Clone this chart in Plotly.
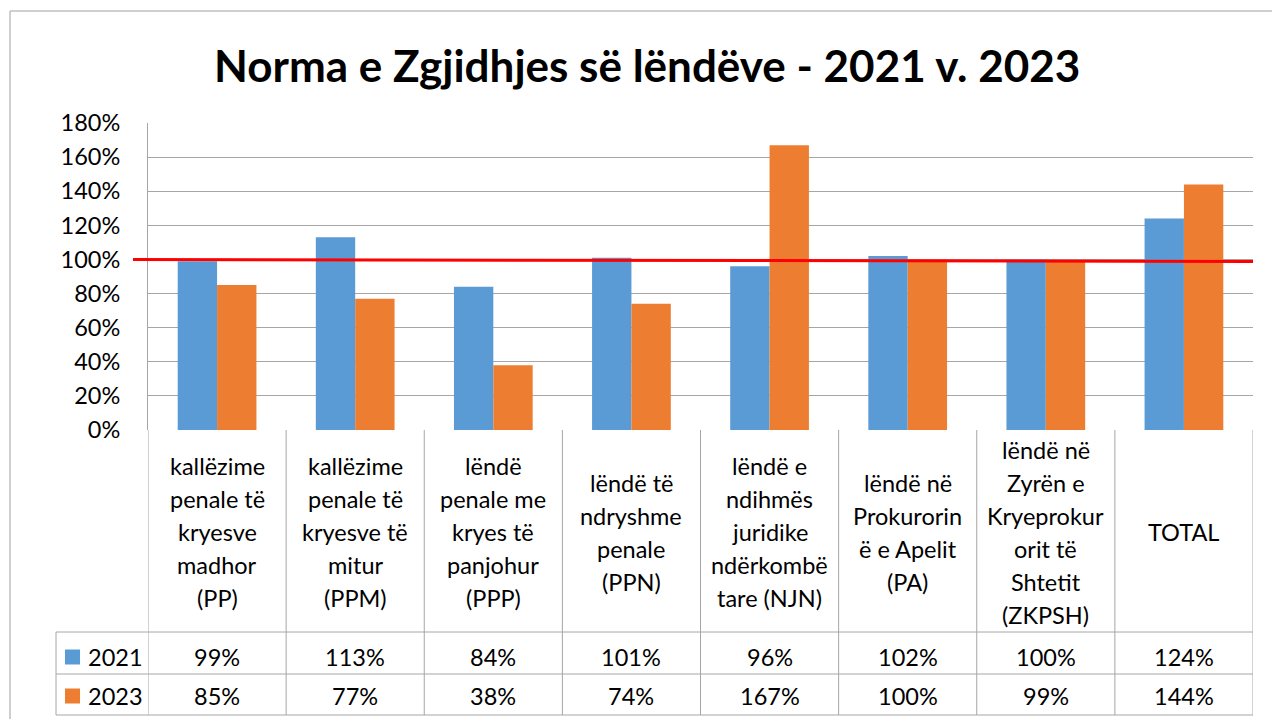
import plotly.graph_objects as go

title = "Norma e Zgjidhjes së lëndëve - 2021 v. 2023"
categories = [
    "kallëzime<br>penale të<br>kryesve<br>madhor<br>(PP)",
    "kallëzime<br>penale të<br>kryesve të<br>mitur<br>(PPM)",
    "lëndë<br>penale me<br>kryes të<br>panjohur<br>(PPP)",
    "lëndë të<br>ndryshme<br>penale<br>(PPN)",
    "lëndë e<br>ndihmës<br>juridike<br>ndërkombë<br>tare (NJN)",
    "lëndë në<br>Prokurorin<br>ë e Apelit<br>(PA)",
    "lëndë në<br>Zyrën e<br>Kryeprokur<br>orit të<br>Shtetit<br>(ZKPSH)",
    "TOTAL",
]
series_names = ["2021", "2023"]
values_2021 = [99, 113, 84, 101, 96, 102, 100, 124]
values_2023 = [85, 77, 38, 74, 167, 100, 99, 144]
colors = ["#5B9BD5", "#ED7D31"]
y_ticks = [0, 20, 40, 60, 80, 100, 120, 140, 160, 180]

W, H = 1272, 719
L, R, T, B = 148, 1253, 123, 430
FONT = "Lato, Carlito, Calibri, sans-serif"
FS = 23.5
GRID = "#a6a6a6"


def X(px):
    return (px - L) / (R - L)


def Y(py):
    return (B - py) / (B - T)


fig = go.Figure()
for name, vals, col in zip(series_names, [values_2021, values_2023], colors):
    fig.add_trace(go.Bar(x=list(range(len(categories))), y=vals, name=name,
                         marker=dict(color=col, line=dict(width=0))))

shapes = []
annotations = []

# outer frame
shapes.append(dict(type="line", xref="paper", yref="paper", x0=X(10), x1=X(1290), y0=Y(11), y1=Y(11),
                   line=dict(color="#bfbfbf", width=1.5)))
shapes.append(dict(type="line", xref="paper", yref="paper", x0=X(10), x1=X(10), y0=Y(11), y1=Y(730),
                   line=dict(color="#bfbfbf", width=1.5)))

# red reference line
shapes.append(dict(type="line", xref="paper", yref="y", x0=X(133), x1=1, y0=100, y1=98.8,
                   line=dict(color="#FF0000", width=3), layer="above"))

# data table grid
n = len(categories)
row1, row2, row3 = 632, 674, 715
for i in range(n + 1):
    shapes.append(dict(type="line", xref="x", yref="paper", x0=i - 0.5, x1=i - 0.5, y0=Y(B), y1=Y(row3),
                       line=dict(color=GRID, width=1)))
for ry in (row1, row2, row3):
    shapes.append(dict(type="line", xref="paper", yref="paper", x0=X(56), x1=1, y0=Y(ry), y1=Y(ry),
                       line=dict(color=GRID, width=1)))
shapes.append(dict(type="line", xref="paper", yref="paper", x0=X(56), x1=X(56), y0=Y(row1), y1=Y(row3),
                   line=dict(color=GRID, width=1)))

# category labels (centered in label row)
line_h = 33
center_y = 532
for i, cat in enumerate(categories):
    lines = cat.split("<br>")
    top = center_y - line_h * (len(lines) - 1) / 2
    for k, ln in enumerate(lines):
        annotations.append(dict(x=i, xref="x", y=Y(top + k * line_h), yref="paper", text=ln,
                                showarrow=False, xanchor="center", yanchor="middle",
                                font=dict(family=FONT, size=FS, color="#000000")))

# value rows + legend keys
for ri, (name, vals, col) in enumerate(zip(series_names, [values_2021, values_2023], colors)):
    yc = [657, 696][ri]
    shapes.append(dict(type="rect", xref="paper", yref="paper", x0=X(65), x1=X(80), y0=Y(yc - 7.5), y1=Y(yc + 7.5),
                       fillcolor=col, line=dict(width=0)))
    annotations.append(dict(x=X(86), xref="paper", y=Y(yc), yref="paper", text=name, showarrow=False,
                            xanchor="left", yanchor="middle", font=dict(family=FONT, size=FS, color="#000000")))
    for i, v in enumerate(vals):
        annotations.append(dict(x=i, xref="x", y=Y(yc), yref="paper", text=f"{v}%", showarrow=False,
                                xanchor="center", yanchor="middle", font=dict(family=FONT, size=FS, color="#000000")))

# title
annotations.append(dict(x=X(647), xref="paper", y=Y(65), yref="paper", text=f"<b>{title}</b>", showarrow=False,
                        xanchor="center", yanchor="middle", font=dict(family=FONT, size=44, color="#000000")))

fig.update_layout(
    width=W, height=H,
    margin=dict(l=L, r=W - R, t=T, b=H - B),
    paper_bgcolor="white", plot_bgcolor="white",
    barmode="group", bargap=0.43, bargroupgap=0,
    showlegend=False,
    shapes=shapes, annotations=annotations,
    font=dict(family=FONT, size=FS, color="#000000"),
)
fig.update_xaxes(range=[-0.5, n - 0.5], showticklabels=False, showgrid=False, zeroline=False,
                 showline=False, ticks="")
fig.update_yaxes(range=[0, 180], tickvals=y_ticks, ticktext=[f"{t}%" for t in y_ticks],
                 showgrid=True, gridcolor=GRID, gridwidth=1, zeroline=False,
                 showline=True, linecolor=GRID, linewidth=1, ticks="", ticklabelstandoff=22,
                 tickfont=dict(family=FONT, size=FS, color="#000000"))

fig.write_html("out.html", config={"displayModeBar": False},
               post_script="document.body.style.margin='0';")
